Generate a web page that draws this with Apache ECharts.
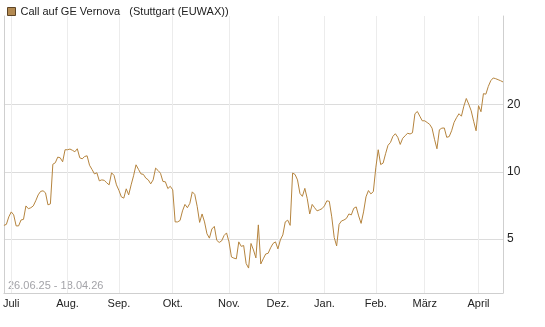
<!DOCTYPE html>
<html>
<head>
<meta charset="utf-8">
<script src="https://cdn.jsdelivr.net/npm/echarts@6/dist/echarts.min.js"></script>
<style>
  html, body { margin: 0; padding: 0; background: #fff; }
  #chart { width: 545px; height: 327px; }
</style>
</head>
<body>
<div id="chart"></div>
<script>
const seriesName = 'Call auf GE Vernova'
const exchange = '(Stuttgart (EUWAX))'
const rangeText = '26.06.25 - 18.04.26'
const firstDay = '2025-06-26'
const lastDay = '2026-04-17'
// Börsenfeiertage ohne Kurs
const holidays = ['2025-12-24', '2025-12-25', '2025-12-26', '2025-12-31', '2026-01-01', '2026-04-03', '2026-04-06']
const monthNames = ['Jan.', 'Feb.', 'März', 'April', 'Mai', 'Juni', 'Juli', 'Aug.', 'Sep.', 'Okt.', 'Nov.', 'Dez.']
const yTicks = [5, 10, 20]
const prices = [
  5.75, 5.81, 6.28, 6.61, 6.41, 5.72, 5.72, 6.08, 6.12, 7.03,
  6.83, 6.90, 7.03, 7.41, 7.88, 8.17, 8.22, 8.05, 7.11, 7.18,
  10.81, 10.98, 11.64, 11.56, 11.09, 12.56, 12.56, 12.65, 12.49, 12.30,
  12.69, 11.56, 11.44, 11.71, 11.80, 10.70, 10.25, 9.79, 9.90, 9.11,
  9.20, 9.16, 8.93, 8.74, 9.90, 9.64, 8.74, 8.26, 7.72, 7.62,
  8.39, 7.88, 8.74, 9.60, 10.75, 10.26, 9.79, 9.74, 9.37, 9.20,
  8.83, 9.20, 10.39, 10.14, 9.85, 9.05, 9.02, 8.41, 8.61, 8.30,
  5.96, 5.96, 6.05, 6.68, 7.14, 6.90, 7.22, 8.13, 7.92, 7.00,
  5.93, 6.47, 5.96, 5.27, 5.04, 5.54, 5.69, 4.93, 4.82, 4.90,
  5.18, 5.32, 4.85, 4.15, 4.10, 4.07, 4.85, 4.63, 4.67, 3.88,
  3.70, 4.77, 4.46, 4.11, 5.78, 3.86, 4.07, 4.28, 4.31, 4.56,
  4.77, 4.85, 4.51, 4.95, 5.21, 5.96, 6.07, 5.75, 9.87, 9.73,
  9.20, 8.00, 7.76, 8.43, 7.57, 6.47, 7.14, 6.90, 6.68, 6.75,
  6.83, 7.03, 7.41, 7.37, 6.28, 5.08, 4.65, 5.81, 6.02, 6.08,
  6.18, 6.47, 6.41, 6.86, 6.96, 6.34, 5.87, 6.61, 7.72, 8.24,
  7.96, 8.15, 10.42, 12.56, 10.78, 10.94, 12.05, 13.15, 13.54, 14.43,
  14.82, 14.28, 13.27, 14.14, 14.51, 14.90, 14.78, 14.97, 18.22, 18.65,
  17.76, 16.94, 16.94, 16.64, 16.34, 15.70, 14.00, 12.69, 15.44, 15.70,
  15.73, 14.28, 14.39, 15.28, 16.66, 17.49, 18.22, 17.76, 19.70, 21.33,
  20.10, 18.78, 16.86, 15.28, 19.80, 18.60, 22.42, 22.30, 24.17, 25.63,
  26.36, 26.17, 25.90, 25.63, 25.30
]

// Handelstage (Mo-Fr ohne Feiertage)
const dates = []
for (let d = new Date(firstDay + 'T00:00:00Z'); d <= new Date(lastDay + 'T00:00:00Z'); d.setUTCDate(d.getUTCDate() + 1)) {
  const iso = d.toISOString().slice(0, 10)
  const wd = d.getUTCDay()
  if (wd === 0 || wd === 6 || holidays.includes(iso)) continue
  dates.push(iso)
}
const monthStart = new Set()
dates.forEach((d, i) => {
  if (i > 0 && d.slice(5, 7) !== dates[i - 1].slice(5, 7)) monthStart.add(i)
})
const isMonthStart = (i) => monthStart.has(i)

const lineColor = '#b5843e'
const chart = echarts.init(document.getElementById('chart'))
const option = {
  animation: false,
  textStyle: { fontFamily: 'Liberation Sans, Arial, sans-serif' },
  legend: {
    left: 2,
    top: 1,
    icon: 'rect',
    itemWidth: 8,
    itemHeight: 8,
    itemStyle: { color: '#b38a52', borderColor: '#5e4526', borderWidth: 1 },
    textStyle: { fontSize: 11, color: '#222' },
    formatter: (name) => name + '   ' + exchange
  },
  grid: { left: 2, right: 42, top: 16, bottom: 34 },
  graphic: [
    {
      type: 'text',
      left: 8,
      top: 280,
      style: { text: rangeText, fill: '#a3a3a8', fontSize: 11, fontFamily: 'Liberation Sans, Arial, sans-serif' }
    }
  ],
  xAxis: {
    type: 'category',
    data: dates,
    boundaryGap: false,
    axisLine: { lineStyle: { color: '#cfcfcf' } },
    axisTick: { show: false },
    axisLabel: {
      interval: isMonthStart,
      formatter: (v) => monthNames[Number(v.slice(5, 7)) - 1],
      color: '#222',
      fontSize: 11,
      margin: 5
    },
    splitLine: { show: true, interval: isMonthStart, lineStyle: { color: '#ececec' } }
  },
  yAxis: [
    {
      type: 'log',
      min: 2.86,
      max: 50,
      position: 'right',
      axisLine: { show: true, lineStyle: { color: '#cfcfcf' } },
      axisTick: { show: false, customValues: yTicks },
      axisLabel: { customValues: yTicks, color: '#222', fontSize: 12, margin: 4 },
      splitLine: { show: true, lineStyle: { color: '#dcdcdc' } }
    },
    {
      type: 'log',
      min: 2.86,
      max: 50,
      position: 'left',
      axisLine: { show: true, lineStyle: { color: '#cfcfcf' } },
      axisTick: { show: false },
      axisLabel: { show: false },
      splitLine: { show: false }
    }
  ],
  series: [
    {
      name: seriesName,
      type: 'line',
      data: prices,
      showSymbol: false,
      symbol: 'none',
      lineStyle: { width: 1, color: lineColor },
      itemStyle: { color: lineColor }
    }
  ]
}
chart.setOption(option)
</script>
</body>
</html>
